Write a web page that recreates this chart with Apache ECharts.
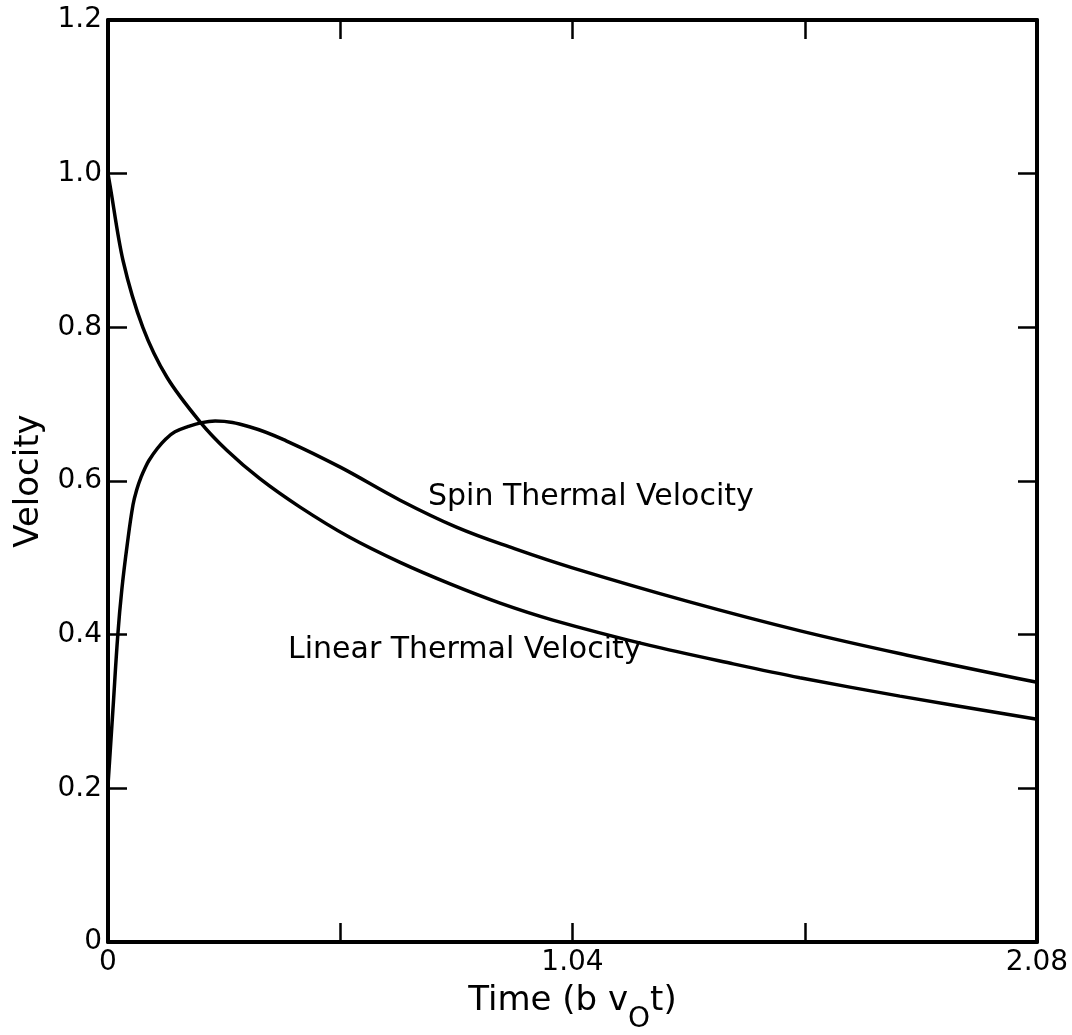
<!DOCTYPE html>
<html><head><meta charset="utf-8">
<script src="https://cdn.jsdelivr.net/npm/echarts@6/dist/echarts.min.js"></script>
<style>html,body{margin:0;padding:0;background:#fff}#c{width:1072px;height:1035px}</style>
</head><body><div id="c"></div>
<script>
// Data
const linearX = [0, 0.0045, 0.0336, 0.078, 0.132, 0.206, 0.266, 0.34, 0.43, 0.54, 0.654, 0.766, 0.878, 0.996, 1.213, 1.40, 1.549, 1.773, 2.08];
const linearY = [1.0, 0.985, 0.887, 0.80, 0.735, 0.677, 0.640, 0.603, 0.566, 0.527, 0.494, 0.466, 0.441, 0.419, 0.386, 0.362, 0.344, 0.320, 0.290];
const spinX = [0, 0.011, 0.022, 0.031, 0.043, 0.056, 0.065, 0.074, 0.083, 0.092, 0.11, 0.13, 0.15, 0.18, 0.21, 0.24, 0.32, 0.40, 0.52, 0.654, 0.78, 0.91, 1.04, 1.30, 1.55, 1.80, 2.08];
const spinY = [0.204, 0.302, 0.40, 0.459, 0.517, 0.569, 0.590, 0.605, 0.617, 0.627, 0.642, 0.655, 0.664, 0.671, 0.676, 0.678, 0.670, 0.652, 0.618, 0.575, 0.54, 0.512, 0.487, 0.443, 0.405, 0.372, 0.338];
const xTickValues = [0, 0.52, 1.04, 1.56, 2.08];
const xTickLabels = ['0', '', '1.04', '', '2.08'];
const yTickLabels = ['0', '0.2', '0.4', '0.6', '0.8', '1.0', '1.2'];
const annotations = [
  {text: 'Spin Thermal Velocity', x: 0.7165, y: 0.579},
  {text: 'Linear Thermal Velocity', x: 0.403, y: 0.38}
];

const FONT = 'DejaVu Sans';
const chart = echarts.init(document.getElementById('c'), null, {renderer: 'canvas'});
const zip = (xs, ys) => xs.map((x, i) => [x, ys[i]]);
const lineStyle = {color: '#000', width: 3.5};
const axisLine = {show: true, onZero: false, lineStyle: {color: '#000', width: 4}};
const tick = {show: true, inside: true, length: 19, lineStyle: {color: '#000', width: 2.5}};

chart.setOption({
  animation: false,
  backgroundColor: '#fff',
  grid: {left: 108, right: 35, top: 20, bottom: 93, containLabel: false, outerBoundsMode: 'none'},
  xAxis: [{
    type: 'value', min: 0, max: 2.08, interval: 0.52, position: 'bottom',
    axisLine, axisTick: tick, splitLine: {show: false},
    name: '{a|Time (b v}{s|O}{a|t)}', nameLocation: 'middle', nameGap: 26,
    nameTextStyle: {rich: {
      a: {fontFamily: FONT, fontSize: 34, color: '#000'},
      s: {fontFamily: FONT, fontSize: 28, color: '#000', padding: [38, 0, 0, 0]}
    }},
    axisLabel: {
      fontFamily: FONT, fontSize: 28, color: '#000', margin: 7,
      formatter: v => { const i = xTickValues.findIndex(t => Math.abs(t - v) < 1e-6); return i >= 0 ? xTickLabels[i] : ''; }
    }
  }, {
    type: 'value', min: 0, max: 2.08, interval: 0.52, position: 'top',
    axisLine, axisTick: tick, axisLabel: {show: false}, splitLine: {show: false}
  }],
  yAxis: [{
    type: 'value', min: 0, max: 1.2, interval: 0.2, position: 'left',
    axisLine, axisTick: tick, splitLine: {show: false},
    name: 'Velocity', nameLocation: 'middle', nameGap: 52,
    nameTextStyle: {fontFamily: FONT, fontSize: 34, color: '#000'},
    axisLabel: {
      fontFamily: FONT, fontSize: 28, color: '#000', margin: 6,
      formatter: v => yTickLabels[Math.round(v / 0.2)]
    }
  }, {
    type: 'value', min: 0, max: 1.2, interval: 0.2, position: 'right',
    axisLine, axisTick: tick, axisLabel: {show: false}, splitLine: {show: false}
  }],
  series: [
    {name: 'Linear Thermal Velocity', type: 'line', smooth: 0.3, showSymbol: false, data: zip(linearX, linearY), lineStyle, itemStyle: {color: '#000'}},
    {name: 'Spin Thermal Velocity', type: 'line', smooth: 0.4, showSymbol: false, data: zip(spinX, spinY), lineStyle, itemStyle: {color: '#000'}}
  ]
});

const g = annotations.map(a => {
  const p = chart.convertToPixel({gridIndex: 0}, [a.x, a.y]);
  return {type: 'text', x: p[0], y: p[1], style: {text: a.text, fontFamily: FONT, fontSize: 30, fill: '#000', align: 'left', verticalAlign: 'middle'}};
});
chart.setOption({graphic: g});
</script></body></html>
